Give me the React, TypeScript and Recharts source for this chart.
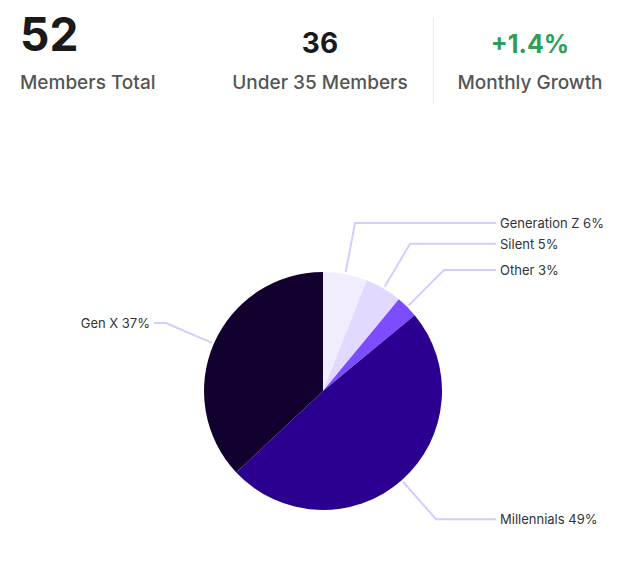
import { PieChart, Pie, Cell } from 'recharts'

// Member age breakdown: header stats + pie with elbow leader labels.

const STAT_VALUES = ['52', '36', '+1.4%']
const STAT_LABELS = ['Members Total', 'Under 35 Members', 'Monthly Growth']

const SLICE_NAMES = ['Generation Z', 'Silent', 'Other', 'Millennials', 'Gen X']
const SLICE_VALUES = [6, 5, 3, 49, 37]
const SLICE_COLORS = ['#f1edff', '#e2d9ff', '#7b4dff', '#2b0090', '#12002f']

const data = SLICE_NAMES.map((name, i) => ({ name, value: SLICE_VALUES[i] }))

const RADIAN = Math.PI / 180
const FONT = 'Inter, "Noto Sans", sans-serif'

function ElbowLabel(props: any) {
  const { cx, cy, midAngle, outerRadius, index } = props
  const cos = Math.cos(-midAngle * RADIAN)
  const sin = Math.sin(-midAngle * RADIAN)
  const x0 = cx + (outerRadius + 2) * cos
  const y0 = cy + (outerRadius + 2) * sin
  const x1 = cx + (outerRadius + 52) * cos
  const y1 = cy + (outerRadius + 52) * sin
  const right = cos >= 0
  const x2 = right ? cx + outerRadius + 54 : cx - outerRadius - 50
  const tx = right ? x2 + 4 : x2 - 4
  return (
    <g>
      <path
        d={`M${x0},${y0}L${x1},${y1}L${x2},${y1}`}
        fill="none"
        stroke="#d6ccff"
        strokeWidth={2}
      />
      <text
        x={tx}
        y={y1}
        textAnchor={right ? 'start' : 'end'}
        dominantBaseline="central"
        fill="#333"
        fontSize={13}
        fontFamily={FONT}
      >
        {`${SLICE_NAMES[index]} ${SLICE_VALUES[index]}%`}
      </text>
    </g>
  )
}

function Stat({ i, left, align, size, color }: { i: number; left: number; align: 'left' | 'center'; size: number; color: string }) {
  return (
    <div style={{
      position: 'absolute', left, top: 0, width: 200,
      marginLeft: align === 'center' ? -100 : 0, textAlign: align,
    }}>
      <div style={{ height: 57, display: 'flex', alignItems: 'flex-end', justifyContent: align === 'center' ? 'center' : 'flex-start' }}>
        <span style={{ fontSize: size, fontWeight: 700, color, lineHeight: 1 }}>{STAT_VALUES[i]}</span>
      </div>
      <div style={{ marginTop: 14, fontSize: 19, color: '#555', fontWeight: 500 }}>{STAT_LABELS[i]}</div>
    </div>
  )
}

export default function App() {
  return (
    <div style={{ position: 'absolute', left: 0, top: 0, width: 621, height: 586, background: '#fff', fontFamily: FONT }}>
      <Stat i={0} left={20} align="left" size={46} color="#1a1a1a" />
      <Stat i={1} left={320} align="center" size={28} color="#1a1a1a" />
      <div style={{ position: 'absolute', left: 433, top: 18, width: 1, height: 86, background: '#eee' }} />
      <Stat i={2} left={530} align="center" size={25} color="#2e9e5b" />
      <div style={{ position: 'absolute', left: 0, top: 0 }}>
        <PieChart width={621} height={586}>
          <Pie
            data={data}
            dataKey="value"
            cx={318}
            cy={386}
            outerRadius={119}
            startAngle={90}
            endAngle={-270}
            stroke="none"
            label={ElbowLabel}
            labelLine={false}
            isAnimationActive={false}
          >
            {data.map((d, i) => <Cell key={d.name} fill={SLICE_COLORS[i]} />)}
          </Pie>
        </PieChart>
      </div>
    </div>
  )
}
